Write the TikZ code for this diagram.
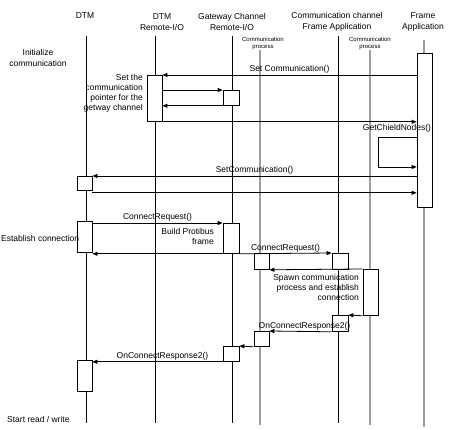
\documentclass[tikz,border=0pt]{standalone}
\usepackage{fontspec}
\setmainfont{Liberation Sans}
\usetikzlibrary{arrows.meta, calc}

\begin{document}
\begin{tikzpicture}[x=1pt, y=-1pt,
    head/.style={align=center, font=\fontsize{8.5}{11}\selectfont, inner sep=0pt},
    proc/.style={align=center, font=\fontsize{6}{7}\selectfont, inner sep=0pt},
    note/.style={align=right, font=\fontsize{8.5}{10}\selectfont, inner sep=0pt},
    side/.style={anchor=west, font=\fontsize{8.5}{10}\selectfont, inner sep=0pt},
    life/.style={line width=0.8pt},
    glife/.style={line width=1.3pt, gray!75},
    act/.style={rectangle, draw, fill=white, line width=0.8pt, minimum width=15pt, inner sep=0pt, anchor=north},
    msg/.style={-{Triangle[length=5pt, width=4pt]}, line width=0.8pt},
    lbl/.style={above, font=\fontsize{8.5}{10}\selectfont, inner sep=1pt}
  ]

    \useasboundingbox (0,0) rectangle (451,430);

    \node[head] (hdtm) at (85,16) {DTM};
    \node[head] (hrio) at (162,22) {DTM\\Remote-I/O};
    \node[head] (hgw) at (232,21.5) {Gateway Channel\\Remote-I/O};
    \node[head] (hcc) at (337,21.5) {Communication channel\\Frame Application};
    \node[head] (hfa) at (423,21.5) {Frame\\Application};
    \node[proc] (hcp1) at (263,43.5) {Communication\\process};
    \node[proc] (hcp2) at (370,43.5) {Communication\\process};

    \draw[life] (86.5,36) -- (86.5,423);
    \draw[life] (155,36) -- (155,423);
    \draw[life] (232,36) -- (232,423);
    \draw[life] (338,36) -- (338,423);
    \draw[glife] (260,50) -- (260,425);
    \draw[glife] (370,50) -- (370,425);
    \draw[glife] (424,40) -- (424,427);

    \node[act, minimum height=154pt] (fa) at (424.5,53) {};
    \node[act, minimum height=46pt] (rio) at (154.5,75) {};
    \node[act, minimum width=16pt, minimum height=15pt] (gw1) at (231,90) {};
    \node[act, minimum height=14pt] (dtm1) at (84.5,176) {};
    \node[act, minimum height=31pt] (dtm2) at (84.5,221) {};
    \node[act, minimum width=16pt, minimum height=30pt] (gw2) at (231,223) {};
    \node[act, minimum height=16pt] (cp1a) at (261.5,253) {};
    \node[act, minimum width=16pt, minimum height=16pt] (cc1) at (340,253) {};
    \node[act, minimum height=46pt] (cp2) at (370.5,269) {};
    \node[act, minimum width=16pt, minimum height=16pt] (cc2) at (340,315) {};
    \node[act, minimum height=15pt] (cp1b) at (261.5,331) {};
    \node[act, minimum width=16pt, minimum height=15pt] (gw3) at (231,346) {};
    \node[act, minimum height=31pt] (dtm3) at (84.5,360) {};

    \node[head] (init) at (38,58) {\fontsize{8.5}{8.5}\selectfont Initialize\\communication};
    \node[note, anchor=north east] (setptr) at (143,74) {Set the\\communication\\pointer for the\\getway channel};
    \node[side] (estab) at (1,238) {Establish connection};
    \node[note, anchor=north east] (bpf) at (214,228) {Build Protibus\\frame};
    \node[note, anchor=north east] (spawn) at (359,274) {Spawn communication\\process and establish\\connection};
    \node[side] (start) at (7,419) {Start read / write};

    \coordinate (gcn1) at (378,137);
    \coordinate (gcn2) at (378,167);
    \node[font=\fontsize{8.5}{10}\selectfont, inner sep=0pt] (gcnlbl) at (397,128) {GetChieldNodes()};

    \draw[msg] (fa.west |- rio.north) -- node[lbl] {Set Communication()} (rio.north east);
    \draw[msg] (rio.east |- gw1.north) -- (gw1.north west);
    \draw[msg] (gw1.south west) -- (rio.east |- gw1.south);
    \draw[msg] (rio.south east) -- (fa.west |- rio.south);
    \draw[msg] (fa.west |- gcn1) -- (gcn1) -- (gcn2) -- (fa.west |- gcn2);
    \draw[msg] (fa.west |- dtm1.north) -- node[lbl] {SetCommunication()} (dtm1.north east);
    \draw[msg] ($(dtm1.south east)+(0,2)$) -- ($(fa.west |- dtm1.south)+(0,2)$);
    \draw[msg] (dtm2.east |- gw2.north) -- node[lbl] {ConnectRequest()} (gw2.north west);
    \draw[msg] (gw2.south west) -- (dtm2.east |- gw2.south);
    \draw[msg] (gw2.south east) -- node[lbl] {ConnectRequest()} (cc1.north west);
    \draw[msg] (cp2.north west) -- (cp1a.south east);
    \draw[msg] (cp2.south west) -- (cc2.north east);
    \draw[msg] (cc2.south west) -- node[lbl, xshift=4pt] {OnConnectResponse2()} (cp1b.north east);
    \draw[msg] (cp1b.south west) -- (gw3.north east);
    \draw[msg] (gw3.south west) -- node[lbl, xshift=5pt] {OnConnectResponse2()} (dtm3.east |- gw3.south);

  \end{tikzpicture}
\end{document}
